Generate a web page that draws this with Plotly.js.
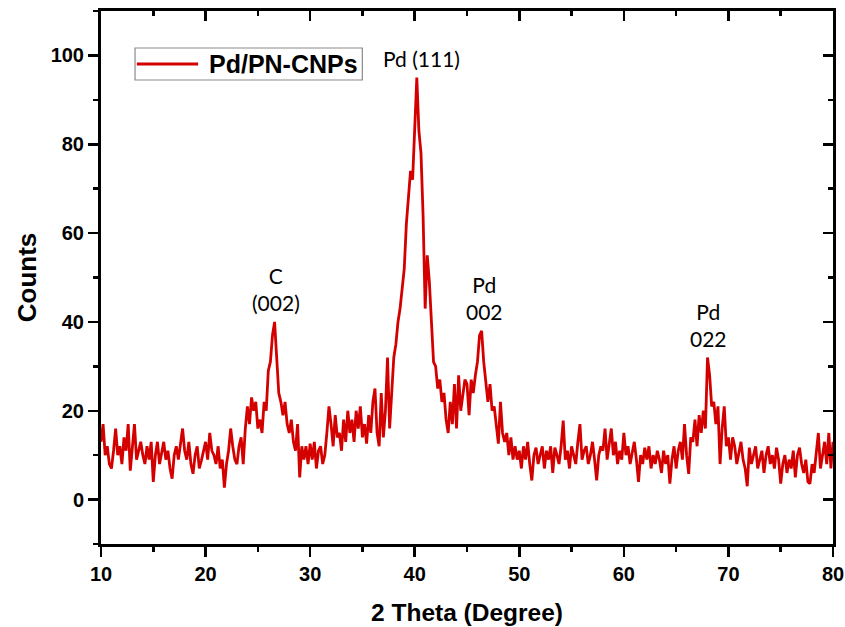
<!DOCTYPE html>
<html>
<head>
<meta charset="utf-8">
<script src="https://cdn.plot.ly/plotly-3.0.1.min.js"></script>
<style>html,body{margin:0;padding:0;background:#fff;}#chart{width:845px;height:627px;}</style>
</head>
<body>
<div id="chart"></div>
<script>
// 2θ sampling of the scan (degrees)
const twoThetaStart = 10;
const twoThetaStep = 0.2;
const counts = [
  13, 17, 10, 12, 8, 7, 11, 16, 10, 12,
  8, 14, 11, 17, 6.5, 12, 17, 9, 11, 13,
  10, 8, 12, 9, 13, 4, 10, 13, 8, 11,
  13, 9, 11, 7, 4.7, 10, 12, 9, 13, 16,
  11, 9, 13, 8, 5.8, 10, 12, 7, 8.8, 11,
  13, 9, 15, 11, 10, 8, 12, 7, 9, 2.7,
  8, 11, 16, 12, 9, 8, 12, 14, 8, 16,
  21, 17, 23, 20, 22, 16, 18, 15, 22, 20,
  29, 31, 37, 40, 33, 24, 22, 19, 22, 17,
  15, 18, 13, 11, 17, 5, 12, 9, 12, 8,
  12.6, 9, 13, 7, 11, 12, 8, 10, 15, 21,
  17, 12, 19, 14, 15, 11, 18, 13, 20, 15,
  18, 13, 20, 16, 21, 14, 17, 12.6, 19, 15,
  22, 25, 15, 12, 24, 14, 20, 32, 16, 25,
  32, 35, 40, 43, 48, 52, 62, 68, 74, 72,
  85, 95, 83, 78, 64, 43, 55, 49, 40, 31,
  30, 25, 27, 22, 24, 18, 15, 22, 17, 26,
  16, 28, 20, 24, 27, 26, 19, 27, 24, 28,
  31, 37, 38, 31, 26, 22, 26, 20, 21, 16,
  12.6, 22, 15, 13, 15, 10, 14, 9, 12, 9,
  11, 7, 12, 9, 13, 8, 4.3, 10, 11.7, 8,
  10, 12, 7, 11, 9, 12, 6, 11.7, 10, 8,
  12, 17.8, 9, 11, 7, 12, 10, 8, 13, 17,
  9, 11, 12, 8, 10, 13, 9, 4.3, 10, 12,
  11, 16, 9, 12, 16, 10, 13, 8, 11, 9,
  15, 10, 12, 8, 11, 13, 9, 4, 10, 8,
  11.7, 9, 12, 7, 10, 8, 11, 9, 6, 11,
  8, 10, 3.6, 9, 12, 7, 11, 13, 9, 17,
  10, 5.8, 14, 13, 18, 12, 19, 15, 20, 16,
  32, 28, 21, 22, 17, 21, 8, 16, 21, 12,
  14, 9, 14, 12, 8, 11, 13, 9, 7, 3,
  11.7, 8, 10, 12, 7, 9, 11, 6, 10, 12,
  8, 10, 7, 11.7, 9, 3.6, 8, 10, 6, 9,
  7, 11, 5, 10, 11.7, 8, 6, 9, 4, 3.6,
  8, 6, 11, 15, 7, 10, 13, 8, 15, 7,
  13
];
const twoTheta = counts.map((_, i) => +(twoThetaStart + i * twoThetaStep).toFixed(2));

// Peak labels
const peakLabels = ["C<br>(002)", "Pd (111)", "Pd<br>002", "Pd<br>022"];
const peakLabelX = [26.75, 40.64, 46.68, 68.1];
const peakLabelY = [47.3, 99.3, 45.3, 39.4];

const seriesName = "Pd/PN-CNPs";
const xTitle = "2 Theta (Degree)";
const yTitle = "Counts";

const red = "#d40000";
const axisFont = {family: "Liberation Sans, Arial, sans-serif", size: 20, color: "#000", weight: "bold"};

const traces = [
  {
    x: twoTheta, y: counts, type: "scatter", mode: "lines", name: seriesName,
    line: {color: red, width: 2.8}, showlegend: false, hoverinfo: "x+y"
  },
  {
    x: [twoThetaStart], y: [0], xaxis: "x2", yaxis: "y2", type: "scatter", mode: "markers",
    marker: {opacity: 0}, showlegend: false, hoverinfo: "skip"
  }
];

const annotations = peakLabels.map((t, i) => ({
  x: peakLabelX[i], y: peakLabelY[i], xref: "x", yref: "y", text: t, showarrow: false,
  font: {family: "Lato, Open Sans, sans-serif", size: 21, color: "#000"},
  xanchor: "center", yanchor: "middle"
}));
annotations.push({
  x: 0.145, y: 0.9006, xref: "paper", yref: "paper", text: seriesName, showarrow: false,
  xanchor: "left", yanchor: "middle",
  font: {family: "Liberation Sans, Arial, sans-serif", size: 25, color: "#000", weight: "bold"}
});

const shapes = [
  {type: "rect", xref: "paper", yref: "paper", x0: 0.0465, x1: 0.357, y0: 0.8705, y1: 0.9306,
   line: {color: "#8a8a8a", width: 1.2}, fillcolor: "rgba(0,0,0,0)"},
  {type: "line", xref: "paper", yref: "paper", x0: 0.049, x1: 0.1327, y0: 0.9006, y1: 0.9006,
   line: {color: red, width: 3}}
];

const layout = {
  width: 845, height: 627,
  margin: {l: 101, r: 12, t: 11, b: 83},
  paper_bgcolor: "#fff", plot_bgcolor: "#fff",
  showlegend: false,
  xaxis: {
    range: [10, 80], dtick: 10, tick0: 10, ticks: "outside", ticklen: 10, tickwidth: 2.5, tickcolor: "#000",
    showline: true, linecolor: "#000", linewidth: 3, showgrid: false, zeroline: false,
    tickfont: axisFont, anchor: "y",
    minor: {dtick: 5, tick0: 10, ticks: "outside", ticklen: 5, tickwidth: 2.5, tickcolor: "#000", showgrid: false},
    title: {text: xTitle, font: {family: "Liberation Sans, Arial, sans-serif", size: 24.5, color: "#000", weight: "bold"}, standoff: 20}
  },
  yaxis: {
    range: [-10, 110], tickvals: [0, 20, 40, 60, 80, 100], ticks: "outside", ticklen: 10, tickwidth: 2.5, tickcolor: "#000",
    showline: true, linecolor: "#000", linewidth: 3, showgrid: false, zeroline: false,
    tickfont: axisFont, anchor: "x",
    minor: {tickvals: [-10, 10, 30, 50, 70, 90, 110], ticks: "outside", ticklen: 5, tickwidth: 2.5, tickcolor: "#000", showgrid: false},
    title: {text: yTitle, font: {family: "Liberation Sans, Arial, sans-serif", size: 26, color: "#000", weight: "bold"}, standoff: 7}
  },
  xaxis2: {
    range: [10, 80], dtick: 10, tick0: 10, overlaying: "x", side: "top", anchor: "y2",
    ticks: "inside", ticklen: 10, tickwidth: 2.5, tickcolor: "#000", showticklabels: false,
    showline: true, linecolor: "#000", linewidth: 3, showgrid: false, zeroline: false,
    minor: {dtick: 5, tick0: 10, ticks: "inside", ticklen: 5, tickwidth: 2.5, tickcolor: "#000", showgrid: false}
  },
  yaxis2: {
    range: [-10, 110], tickvals: [0, 20, 40, 60, 80, 100], overlaying: "y", side: "right", anchor: "x2",
    ticks: "inside", ticklen: 10, tickwidth: 2.5, tickcolor: "#000", showticklabels: false,
    showline: true, linecolor: "#000", linewidth: 3, showgrid: false, zeroline: false,
    minor: {tickvals: [-10, 10, 30, 50, 70, 90, 110], ticks: "inside", ticklen: 5, tickwidth: 2.5, tickcolor: "#000", showgrid: false}
  },
  annotations: annotations,
  shapes: shapes
};

Plotly.newPlot("chart", traces, layout, {displayModeBar: false, staticPlot: true});
</script>
</body>
</html>
